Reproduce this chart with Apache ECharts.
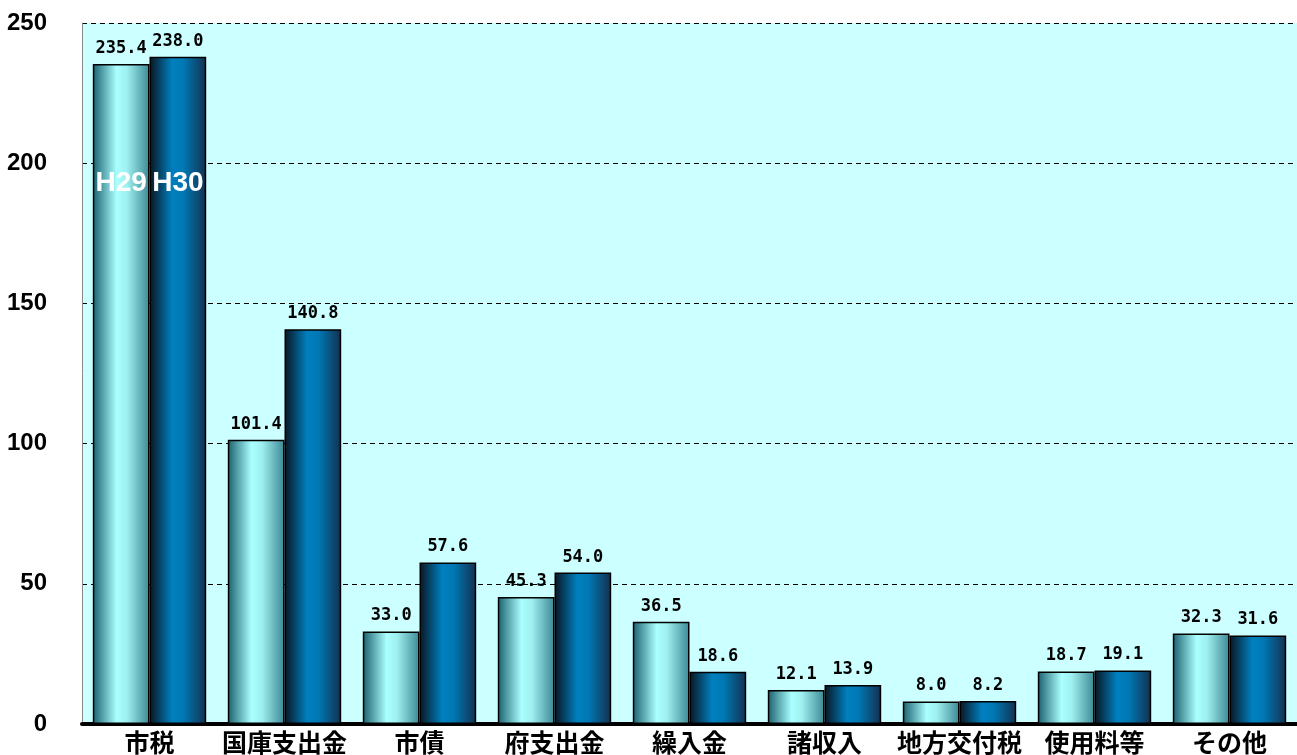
<!DOCTYPE html>
<html><head><meta charset="utf-8">
<script src="https://cdn.jsdelivr.net/npm/echarts@6/dist/echarts.min.js"></script>
<style>html,body{margin:0;padding:0;background:#fff}#c{width:1297px;height:755px}</style>
</head><body><div id="c"></div>
<script>
const categories = ['市税','国庫支出金','市債','府支出金','繰入金','諸収入','地方交付税','使用料等','その他'];
const h29 = [235.4,101.4,33.0,45.3,36.5,12.1,8.0,18.7,32.3];
const h30 = [238.0,140.8,57.6,54.0,18.6,13.9,8.2,19.1,31.6];
const seriesNames = ['H29','H30'];
const yTicks = {min:0,max:250,interval:50};
const tagValue = 193; // vertical position (in data units) of the H29/H30 tags in the first category

const chart = echarts.init(document.getElementById('c'));
const g29 = {type:'linear',x:0,y:0,x2:1,y2:0,colorStops:[
  {offset:0,color:'#1a5f6e'},{offset:0.42,color:'#aaffff'},{offset:0.6,color:'#9ff0f0'},{offset:1,color:'#3b8894'}]};
const g30 = {type:'linear',x:0,y:0,x2:1,y2:0,colorStops:[
  {offset:0,color:'#0a1420'},{offset:0.4,color:'#0080bf'},{offset:0.6,color:'#0078b4'},{offset:1,color:'#14304e'}]};
const valLabel = {show:true,position:'top',distance:7,color:'#000',fontFamily:'DejaVu Sans Mono',fontWeight:'bold',fontSize:17,
  formatter:p=>p.value.toFixed(1)};
function tag(name){return {symbol:'rect',symbolSize:[40,30],silent:true,
  itemStyle:{color:'rgba(0,0,0,0)',borderWidth:0},
  data:[{coord:[categories[0],tagValue],value:name}],
  label:{show:true,position:'inside',formatter:name,color:'#fff',fontSize:28,fontWeight:'bold',fontFamily:'Liberation Sans'}};}
chart.setOption({
  animation:false,
  grid:{left:82,right:0,top:23,bottom:31,show:true,backgroundColor:'#ccffff',borderWidth:0,containLabel:false,outerBoundsMode:'none'},
  xAxis:{type:'category',data:categories,
    axisLine:{lineStyle:{color:'#000',width:4}},axisTick:{show:false},
    axisLabel:{color:'#000',fontSize:25,fontWeight:'bold',fontFamily:'Noto Sans CJK JP',margin:6,interval:0}},
  yAxis:{type:'value',min:yTicks.min,max:yTicks.max,interval:yTicks.interval,
    axisLine:{show:true,lineStyle:{color:'#888',width:1}},axisTick:{show:false},
    splitLine:{lineStyle:{color:'#000',type:[5,4],width:1}},
    axisLabel:{color:'#000',fontSize:24,fontWeight:'bold',fontFamily:'Liberation Sans',margin:35}},
  series:[
    {name:seriesNames[0],type:'bar',data:h29,barGap:'0%',barCategoryGap:'16%',
      itemStyle:{color:g29,borderColor:'#000',borderWidth:1.5},label:valLabel,markPoint:tag(seriesNames[0])},
    {name:seriesNames[1],type:'bar',data:h30,barGap:'0%',barCategoryGap:'16%',
      itemStyle:{color:g30,borderColor:'#000',borderWidth:1.5},label:valLabel,markPoint:tag(seriesNames[1])}
  ]
});
</script></body></html>
